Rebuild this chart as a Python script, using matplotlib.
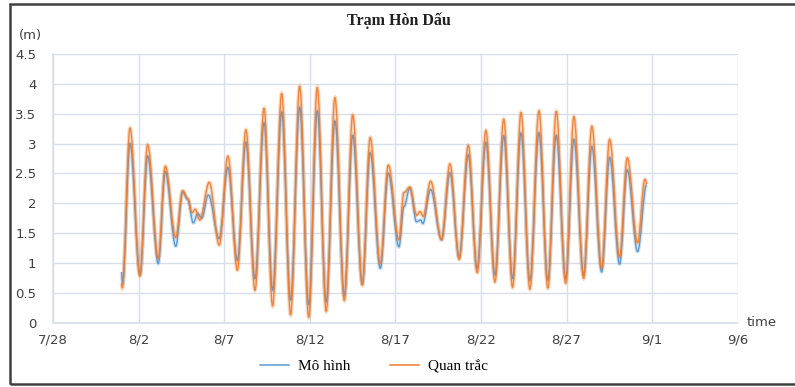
import pandas as pd
import matplotlib.pyplot as plt
import matplotlib.dates as mdates
from matplotlib.patches import Rectangle, PathPatch
from matplotlib.path import Path
from matplotlib.lines import Line2D

# time axis: days after 7/28 00:00, one value per turning point of the curve
t_model = [4.00, 4.06, 4.50, 5.08, 5.53, 6.15, 6.56, 7.17, 7.58, 7.86, 8.20, 8.45,
           8.69, 9.07, 9.71, 10.22, 10.77, 11.27, 11.80, 12.33, 12.83, 13.36, 13.88,
           14.41, 14.94, 15.44, 15.96, 16.47, 17.02, 17.51, 18.07, 18.53, 19.12,
           19.59, 20.21, 20.50, 20.85, 21.24, 21.48, 21.60, 22.06, 22.70, 23.19,
           23.73, 24.26, 24.78, 25.29, 25.82, 26.33, 26.85, 27.34, 27.86, 28.39,
           28.91, 29.40, 29.95, 30.43, 31.00, 31.48, 32.05, 32.52, 33.10, 33.55,
           34.15, 34.68]
h_model = [0.85, 0.66, 3.00, 0.81, 2.79, 0.99, 2.53, 1.28, 2.19, 2.07, 1.67, 1.83,
           1.75, 2.14, 1.41, 2.60, 1.04, 3.02, 0.74, 3.35, 0.54, 3.53, 0.38,
           3.61, 0.30, 3.55, 0.35, 3.38, 0.46, 3.14, 0.65, 2.85, 0.91,
           2.50, 1.27, 1.94, 2.26, 1.69, 1.72, 1.66, 2.23, 1.39, 2.51,
           1.10, 2.81, 0.91, 3.02, 0.80, 3.13, 0.74, 3.18, 0.71, 3.18,
           0.71, 3.14, 0.74, 3.07, 0.80, 2.95, 0.85, 2.77, 0.98, 2.56,
           1.19, 2.31]

t_obs = [4.00, 4.05, 4.50, 5.08, 5.53, 6.15, 6.56, 7.17, 7.58, 7.89, 8.12, 8.31,
         8.57, 9.13, 9.71, 10.22, 10.77, 11.27, 11.80, 12.33, 12.83, 13.36, 13.88,
         14.41, 14.94, 15.44, 15.96, 16.47, 17.02, 17.51, 18.07, 18.53, 19.12,
         19.59, 20.21, 20.50, 20.85, 21.24, 21.44, 21.63, 22.06, 22.70, 23.19,
         23.73, 24.26, 24.78, 25.29, 25.82, 26.33, 26.85, 27.34, 27.86, 28.39,
         28.91, 29.40, 29.95, 30.43, 31.00, 31.48, 32.05, 32.52, 33.10, 33.55,
         34.15, 34.58, 34.71]
h_obs = [0.66, 0.58, 3.26, 0.78, 2.98, 1.08, 2.62, 1.43, 2.21, 2.07, 1.84, 1.90,
         1.72, 2.35, 1.30, 2.79, 0.88, 3.23, 0.54, 3.59, 0.28, 3.84, 0.13,
         3.96, 0.09, 3.94, 0.19, 3.77, 0.37, 3.48, 0.63, 3.10, 0.99,
         2.64, 1.39, 2.18, 2.27, 1.80, 1.86, 1.78, 2.37, 1.39, 2.66,
         1.06, 2.97, 0.84, 3.22, 0.68, 3.41, 0.59, 3.52, 0.56, 3.55,
         0.58, 3.54, 0.66, 3.45, 0.74, 3.29, 0.91, 3.07, 1.10, 2.76,
         1.34, 2.40, 2.32]

start = pd.Timestamp("2019-07-28")
x_model = mdates.date2num(start + pd.to_timedelta(t_model, unit="D"))
x_obs = mdates.date2num(start + pd.to_timedelta(t_obs, unit="D"))

blue = "#5B9BD5"
orange = "#ED7D31"
grid_c = "#D9DEE8"
txt_c = "#404040"


def smooth_path(xs, ys, k=0.36):
    # bezier segments with flat tangents at each turning point (like a smoothed Excel line)
    verts = [(xs[0], ys[0])]
    codes = [Path.MOVETO]
    for i in range(len(xs) - 1):
        dx = xs[i + 1] - xs[i]
        verts += [(xs[i] + k * dx, ys[i]), (xs[i + 1] - k * dx, ys[i + 1]), (xs[i + 1], ys[i + 1])]
        codes += [Path.CURVE4] * 3
    return Path(verts, codes)


fig = plt.figure(figsize=(7.95, 3.87), dpi=100)
ax = fig.add_axes([53 / 795, 1 - 322.7 / 387, (737.7 - 53) / 795, (322.7 - 54) / 387])

p_model = smooth_path(x_model, h_model)
p_obs = smooth_path(x_obs, h_obs)
ax.add_patch(PathPatch(p_model, fill=False, edgecolor=blue, lw=2.8, alpha=0.25))
ax.add_patch(PathPatch(p_model, fill=False, edgecolor=blue, lw=1.0))
ax.add_patch(PathPatch(p_obs, fill=False, edgecolor=orange, lw=2.8, alpha=0.3))
ax.add_patch(PathPatch(p_obs, fill=False, edgecolor=orange, lw=1.0, alpha=0.9))

ax.set_xlim(mdates.date2num(start), mdates.date2num(start + pd.Timedelta(days=40)))
ax.set_ylim(0, 4.5)
ticks = [start + pd.Timedelta(days=d) for d in range(0, 41, 5)]
ax.set_xticks(mdates.date2num(ticks))
ax.set_xticklabels([f"{d.month}/{d.day}" for d in ticks])
ax.set_yticks([i * 0.5 for i in range(10)])
ax.set_yticklabels([f"{i * 0.5:g}" for i in range(10)])

ax.grid(True, color=grid_c, lw=1)
ax.set_axisbelow(True)
for s in ["top", "right"]:
    ax.spines[s].set_visible(False)
for s in ["left", "bottom"]:
    ax.spines[s].set_color(grid_c)
    ax.spines[s].set_linewidth(1.2)
ax.tick_params(length=0, labelsize=9.5, colors=txt_c)
ax.tick_params(axis="y", pad=12)
ax.tick_params(axis="x", pad=8)

fig.text(30 / 795, 1 - 35 / 387, "(m)", ha="center", va="center",
         fontsize=9.5, color=txt_c)
fig.text(762 / 795, 1 - 322 / 387, "time", ha="center", va="center",
         fontsize=9.5, color=txt_c)
fig.text(399 / 795, 1 - 21 / 387, "Trạm Hòn Dấu", ha="center", va="center",
         fontsize=11.5, family="Liberation Serif", weight="bold", color="#202020")

handles = [Line2D([], [], color=blue, lw=1.1), Line2D([], [], color=orange, lw=1.1)]
fig.legend(handles, ["Mô hình", "Quan trắc"], loc="center",
           bbox_to_anchor=(374 / 795, 1 - 366 / 387), ncol=2,
           frameon=False, prop={"family": "Liberation Serif", "size": 11},
           handlelength=1.9, handletextpad=0.6, columnspacing=2.6)

# dark frame around the whole chart
fig.patches.append(Rectangle((10 / 795, 3 / 387), 1.0, 1 - 7 / 387,
                             transform=fig.transFigure, fill=False,
                             edgecolor="#404040", lw=1.8))

fig.savefig("out.png", dpi=100)
